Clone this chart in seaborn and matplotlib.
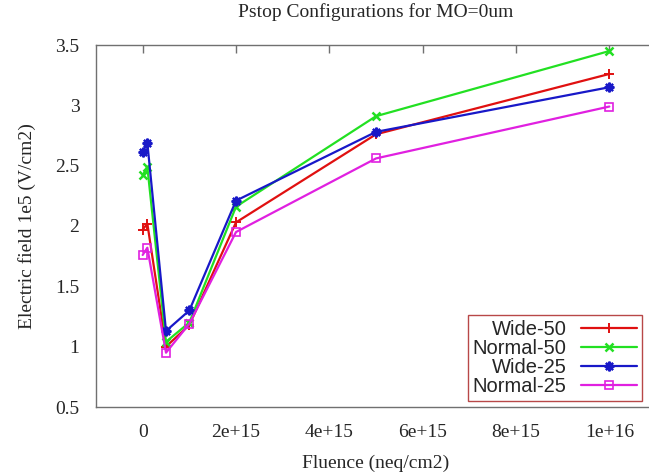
import numpy as np
import pandas as pd
import matplotlib
matplotlib.use("Agg")
import matplotlib.pyplot as plt
import seaborn as sns

# fluence points (neq/cm2)
fluence = [0, 1e14, 5e14, 1e15, 2e15, 5e15, 1e16]

# electric field, 1e5 V/cm2
wide_50 = [1.97, 2.02, 1.00, 1.18, 2.03, 2.76, 3.26]
normal_50 = [2.42, 2.49, 1.04, 1.20, 2.16, 2.91, 3.45]
wide_25 = [2.61, 2.69, 1.13, 1.30, 2.21, 2.78, 3.15]
normal_25 = [1.76, 1.82, 0.95, 1.19, 1.95, 2.56, 2.99]

series_names = ["Wide-50", "Normal-50", "Wide-25", "Normal-25"]

x_ticks = [0, 2e15, 4e15, 6e15, 8e15, 1e16]
x_tick_labels = ["0", "2e+15", "4e+15", "6e+15", "8e+15", "1e+16"]
y_ticks = [0.5, 1.0, 1.5, 2.0, 2.5, 3.0, 3.5]
y_tick_labels = ["0.5", "1", "1.5", "2", "2.5", "3", "3.5"]

sns.set_style("white")
plt.rcParams['font.family'] = ['Liberation Serif', 'DejaVu Serif']

# gnuplot-ish colours and point types
styles = {
    "Wide-50": dict(color="#e01010", marker="+", ms=7, mew=1.4),
    "Normal-50": dict(color="#22e022", marker="x", ms=5.5, mew=1.8),
    "Wide-25": dict(color="#1818c8", marker=(8, 2, 0), ms=7, mew=1.6),
    "Normal-25": dict(color="#e020e0", marker="s", ms=5.5, mew=1.2, mfc="none"),
}

df = pd.DataFrame({
    "Fluence": fluence * 4,
    "Field": wide_50 + normal_50 + wide_25 + normal_25,
    "Config": sum([[n] * len(fluence) for n in series_names], []),
})

fig = plt.figure(figsize=(6.49, 4.76), dpi=100)
ax = fig.add_axes([96 / 649, 69 / 476, 560 / 649, 362 / 476])

for name in series_names:
    st = styles[name]
    sub = df[df["Config"] == name]
    sns.lineplot(data=sub, x="Fluence", y="Field", ax=ax, label=name,
                 color=st["color"], marker=st["marker"], markersize=st["ms"],
                 markeredgewidth=st["mew"], markeredgecolor=st["color"],
                 markerfacecolor=st.get("mfc", st["color"]), linewidth=1.6)

ax.set_xlim(-1e15, 1.1e16)
ax.set_ylim(0.5, 3.5)
ax.set_xticks(x_ticks)
ax.set_xticklabels(x_tick_labels)
ax.set_yticks(y_ticks)
ax.set_yticklabels(y_tick_labels)
ax.tick_params(axis='both', direction='in', length=6, width=1, color='#707070',
               labelsize=14, top=True, pad=12)
for s in ['left', 'bottom', 'top']:
    ax.spines[s].set_color('#707070')
    ax.spines[s].set_linewidth(1)
ax.spines['right'].set_visible(False)

ax.set_xlabel("Fluence (neq/cm2)", fontsize=14, labelpad=10)
ax.set_ylabel("Electric field 1e5 (V/cm2)", fontsize=14, labelpad=14)
ax.set_title("Pstop Configurations for MO=0um", fontsize=14, pad=20)

leg = ax.legend(loc='lower right', bbox_to_anchor=(0.975, 0.017),
                markerfirst=False, fancybox=False, framealpha=1,
                prop={'family': 'Liberation Sans', 'size': 14.5},
                handlelength=2.8, handletextpad=0.7, labelspacing=0.0,
                borderpad=0.25, borderaxespad=0)
leg.get_frame().set_edgecolor('#b84848')
leg.get_frame().set_linewidth(1)

fig.savefig("out.png", dpi=100)
